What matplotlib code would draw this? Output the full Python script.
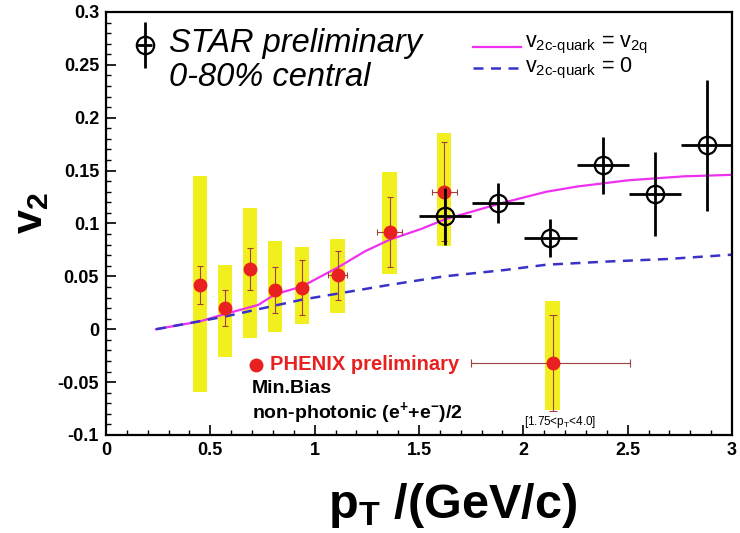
import numpy as np
import matplotlib
matplotlib.use("Agg")
import matplotlib.pyplot as plt
from matplotlib.ticker import MultipleLocator

plt.rcParams['font.family'] = ['Liberation Sans', 'DejaVu Sans']
plt.rcParams['mathtext.fontset'] = 'custom'
plt.rcParams['mathtext.rm'] = 'Liberation Sans'
plt.rcParams['mathtext.it'] = 'Liberation Sans:italic'
plt.rcParams['mathtext.bf'] = 'Liberation Sans:bold'

# STAR preliminary (0-80%)
star_pt = [1.625, 1.88, 2.13, 2.38, 2.63, 2.88]
star_v2 = [0.107, 0.119, 0.086, 0.155, 0.128, 0.174]
star_xerr = [0.125, 0.125, 0.125, 0.125, 0.125, 0.125]
star_yerr = [0.027, 0.019, 0.018, 0.027, 0.040, 0.062]

# PHENIX preliminary, non-photonic electrons
phx_pt = [0.45, 0.57, 0.69, 0.81, 0.94, 1.11, 1.36, 1.62]
phx_v2 = [0.042, 0.020, 0.057, 0.037, 0.039, 0.051, 0.092, 0.130]
phx_xerr = [0.0, 0.0, 0.0, 0.0, 0.0, 0.045, 0.06, 0.06]
phx_stat = [0.018, 0.017, 0.020, 0.022, 0.026, 0.023, 0.033, 0.047]
phx_sys_lo = [-0.059, -0.026, -0.008, -0.003, 0.005, 0.015, 0.052, 0.079]
phx_sys_hi = [0.145, 0.061, 0.115, 0.083, 0.078, 0.085, 0.149, 0.186]

# PHENIX wide bin 1.75 < pT < 4.0
wide_pt = 2.14
wide_v2 = -0.032
wide_xlo, wide_xhi = 1.75, 2.51
wide_stat = 0.045
wide_sys = (-0.076, 0.027)

# model curves
curve_pt = [0.24, 0.45, 0.57, 0.73, 0.81, 0.94, 1.12, 1.24, 1.36, 1.51, 1.62,
            1.89, 2.11, 2.26, 2.5, 2.77, 3.0]
curve_flow = [0.0, 0.0074, 0.0144, 0.023, 0.033, 0.0405, 0.0594, 0.0736, 0.0847,
              0.0948, 0.1036, 0.119, 0.130, 0.135, 0.1408, 0.1446, 0.146]
curve0_pt = [0.24, 0.57, 0.94, 1.12, 1.36, 1.62, 1.91, 2.11, 2.4, 2.69, 3.0]
curve0_v2 = [0.0, 0.012, 0.028, 0.034, 0.042, 0.050, 0.056, 0.061, 0.064, 0.0664, 0.0705]

fig = plt.figure(figsize=(7.4, 5.33), dpi=100)
ax = fig.add_axes([0.1432, 0.1839, 0.8460, 0.7936])

yellow = '#f2ef1e'
red = '#e82020'

# systematic bands
ax.bar(phx_pt, np.array(phx_sys_hi) - np.array(phx_sys_lo), bottom=phx_sys_lo,
       width=0.07, color=yellow, zorder=1)
ax.bar([wide_pt], [wide_sys[1] - wide_sys[0]], bottom=[wide_sys[0]],
       width=0.07, color=yellow, zorder=1)

# curves
ax.plot(curve_pt, curve_flow, color='#f030f0', lw=1.6, zorder=2)
ax.plot(curve0_pt, curve0_v2, color='#3a32c8', lw=1.8, ls=(0, (4, 3)), zorder=2)

# PHENIX points
ax.errorbar(phx_pt, phx_v2, yerr=phx_stat, xerr=phx_xerr, fmt='o', color=red,
            ms=9, ecolor='#a04040', elinewidth=0.8, capsize=2, capthick=0.8, zorder=4)
ax.errorbar([wide_pt], [wide_v2], yerr=[[wide_stat], [wide_stat]],
            xerr=[[wide_pt - wide_xlo], [wide_xhi - wide_pt]], fmt='o', color=red,
            ms=9, ecolor='#a04040', elinewidth=0.8, capsize=3, capthick=0.8, zorder=4)

# STAR points
ax.errorbar(star_pt, star_v2, xerr=star_xerr, yerr=star_yerr, fmt='o', mfc='none',
            mec='black', mew=1.6, ms=12.5, ecolor='black', elinewidth=2, zorder=5)

ax.set_xlim(0, 3)
ax.set_ylim(-0.1, 0.3)
ax.xaxis.set_minor_locator(MultipleLocator(0.1))
ax.yaxis.set_minor_locator(MultipleLocator(0.01))
ax.set_xticks([0, 0.5, 1, 1.5, 2, 2.5, 3], ['0', '0.5', '1', '1.5', '2', '2.5', '3'])
ax.set_yticks(np.arange(-0.1, 0.301, 0.05),
              ['-0.1', '-0.05', '0', '0.05', '0.1', '0.15', '0.2', '0.25', '0.3'])
ax.tick_params(which='both', direction='in', top=False, right=False)
ax.tick_params(which='major', length=7, width=1.2, labelsize=13, pad=5)
ax.tick_params(which='minor', length=3.5, width=1.0)
for lab in ax.get_xticklabels() + ax.get_yticklabels():
    lab.set_fontweight('bold')
for sp in ax.spines.values():
    sp.set_linewidth(1.6)

# STAR legend
ax.errorbar([0.186], [0.269], xerr=[0.035], yerr=[0.022], fmt='o', mfc='none',
            mec='black', mew=1.6, ms=12.5, ecolor='black', elinewidth=2)
ax.text(0.30, 0.270, 'STAR preliminary', fontsize=23.5, style='italic', va='center')
ax.text(0.30, 0.238, '0-80% central', fontsize=23.5, style='italic', va='center')

# model legend
ax.plot([1.757, 1.99], [0.267, 0.267], color='#f030f0', lw=1.6)
ax.plot([1.757, 1.99], [0.247, 0.247], color='#3a32c8', lw=1.8, ls=(0, (4, 3)))
ax.text(2.01, 0.2685, r'v$_{\mathrm{2c\text{-}quark}}$ = v$_{\mathrm{2q}}$', fontsize=15.5,
        va='center')
ax.text(2.01, 0.2465, r'v$_{\mathrm{2c\text{-}quark}}$ = 0', fontsize=15.5, va='center')

# PHENIX legend
ax.plot([0.719], [-0.0336], 'o', color=red, ms=9)
ax.text(0.786, -0.0336, 'PHENIX preliminary', color=red, fontsize=14.5,
        fontweight='bold', va='center')
ax.text(0.70, -0.0563, 'Min.Bias', fontsize=14, fontweight='bold', va='center')
ax.text(0.70, -0.079, r'non-photonic (e$^{\mathbf{+}}$+e$^{\mathbf{-}}$)/2', fontsize=14,
        fontweight='bold', va='center')
ax.text(2.005, -0.0875, r'[1.75<p$_{\mathrm{T}}$<4.0]', fontsize=8.5, va='center')

# axis titles
fig.text(0.443, 0.052, r'p$_{\mathbf{T}}$ /(GeV/c)', fontsize=35, fontweight='bold',
         ha='left', va='center')
fig.text(0.042, 0.60, r'v$_{\mathbf{2}}$', fontsize=31, fontweight='bold', rotation=90,
         ha='center', va='center')

fig.savefig('out.png', dpi=100)
